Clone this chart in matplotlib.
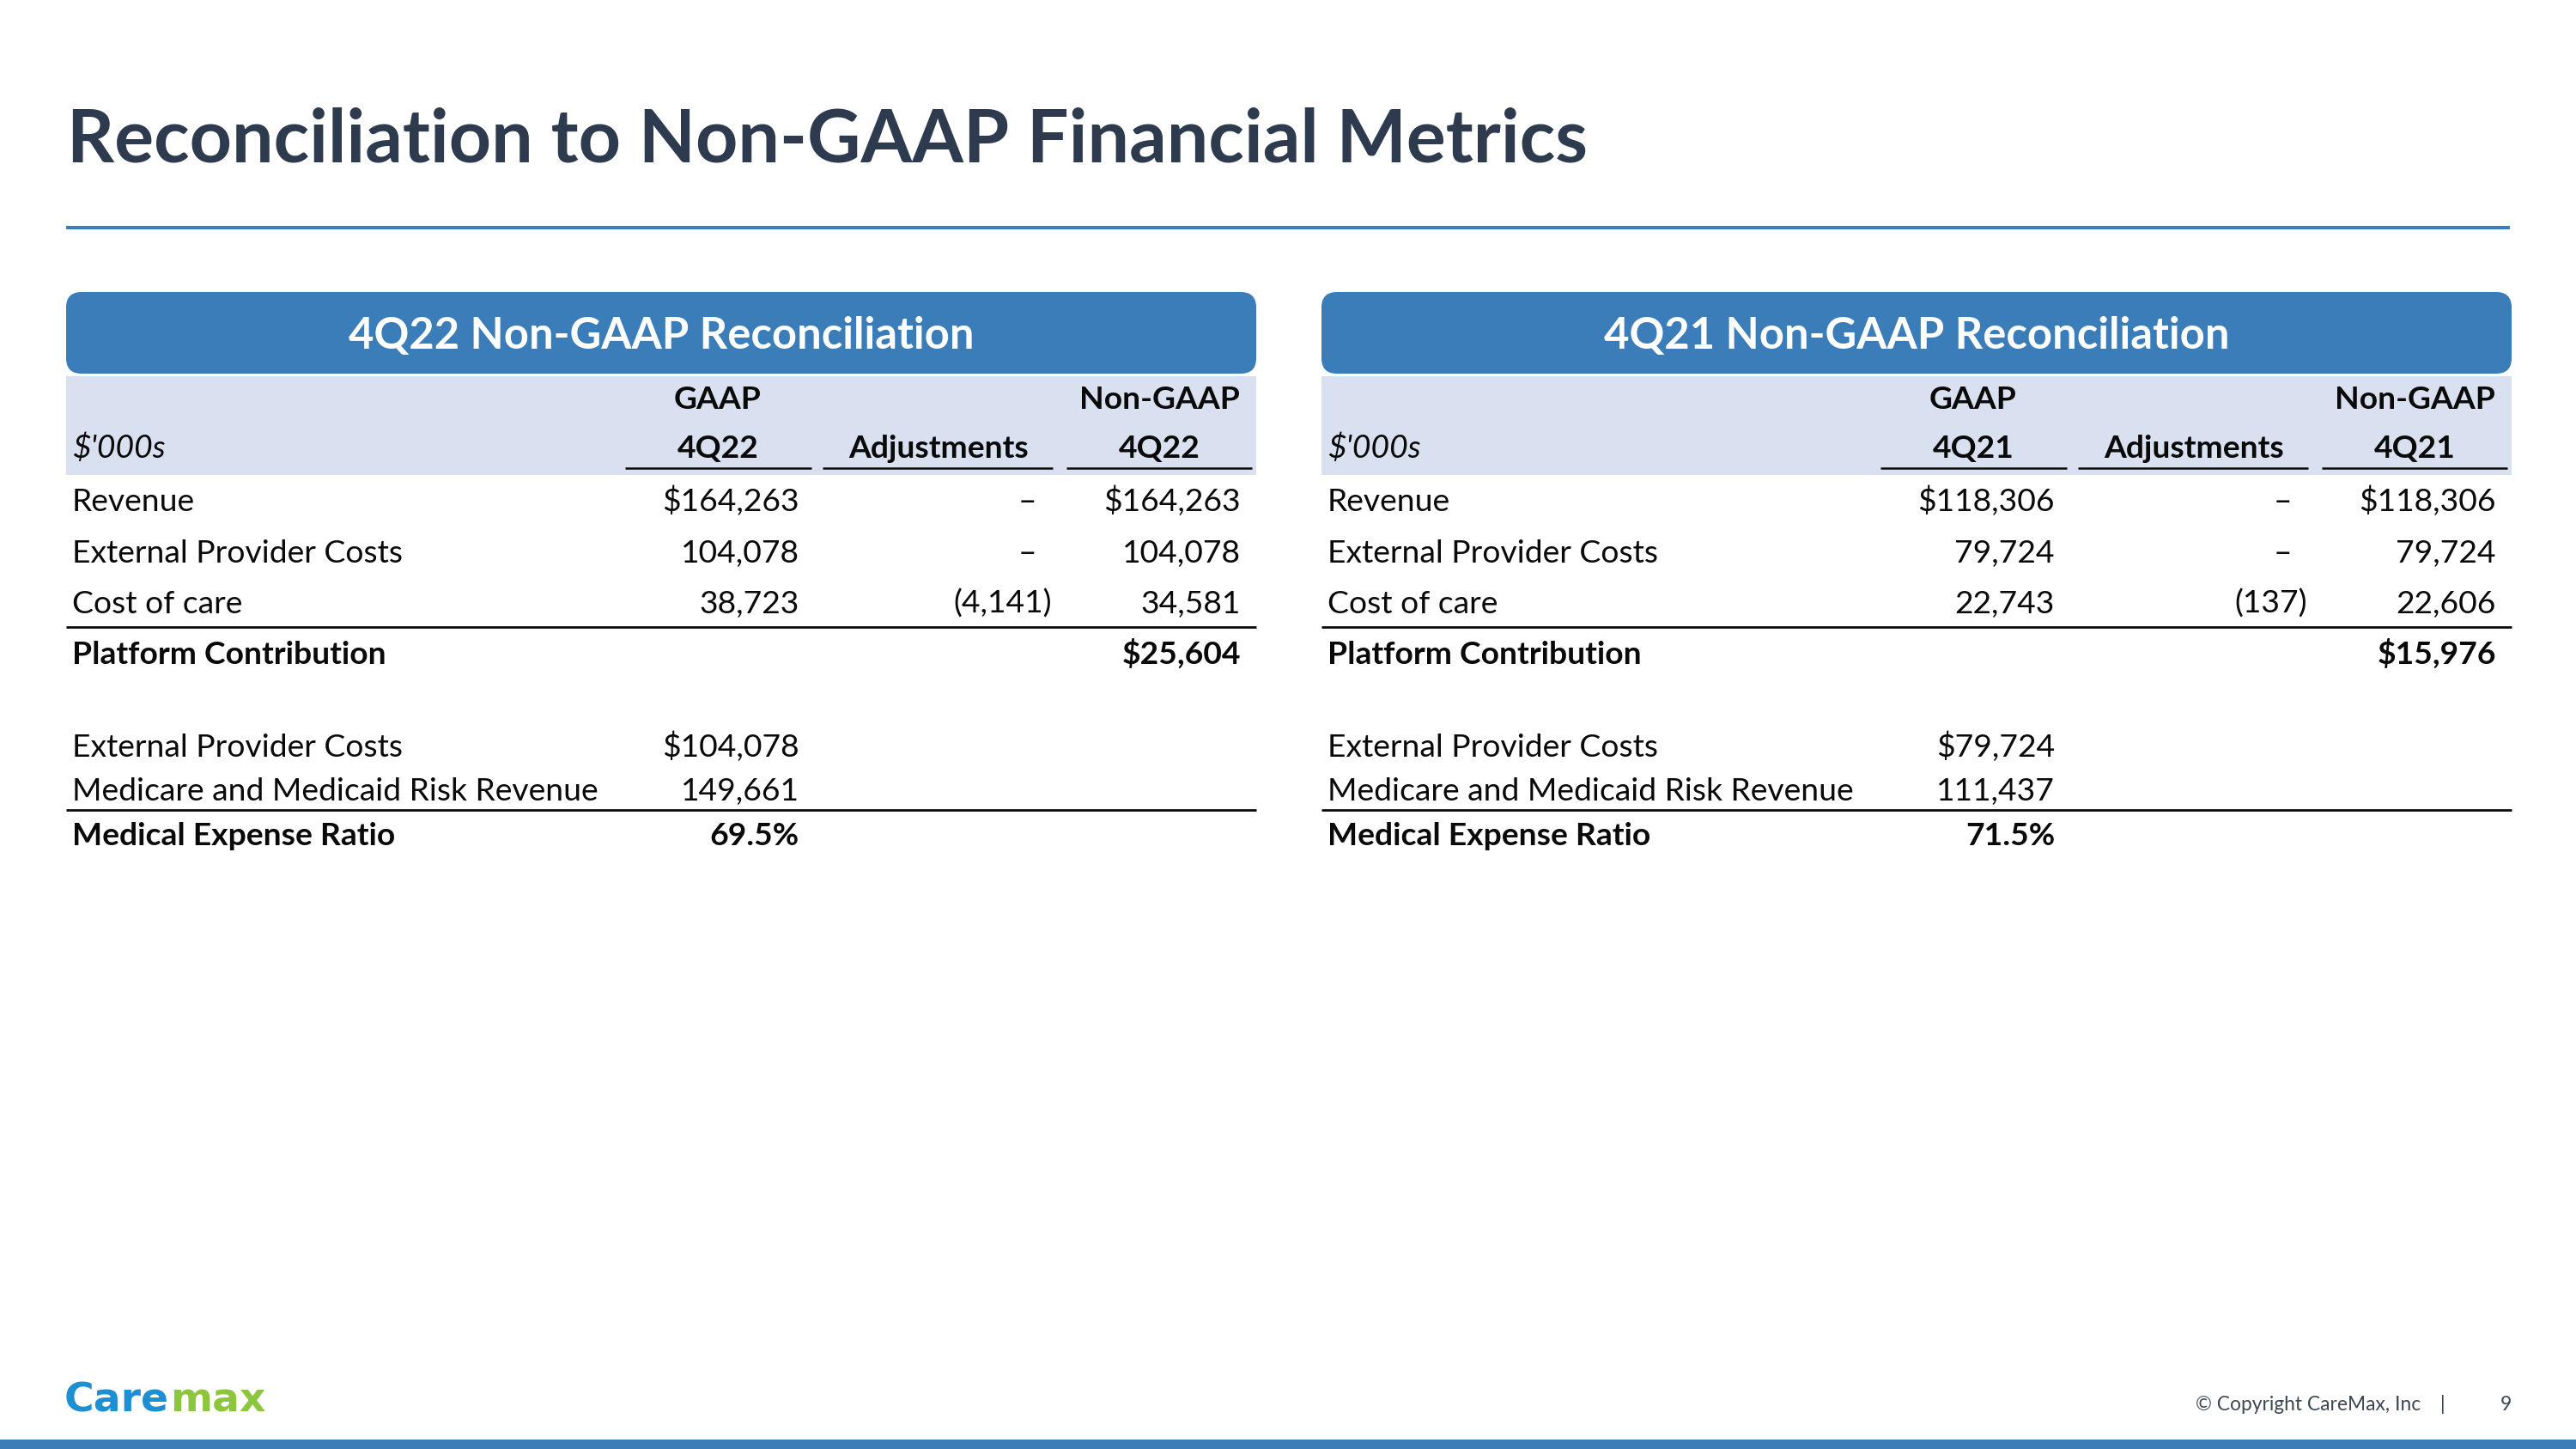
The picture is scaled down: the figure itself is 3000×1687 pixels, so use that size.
import matplotlib
matplotlib.use("Agg")
import matplotlib.pyplot as plt
from matplotlib.patches import FancyBboxPatch, Rectangle

# ---------------- data ----------------
title = "Reconciliation to Non-GAAP Financial Metrics"
periods = ["4Q22", "4Q21"]
top_rows = ["Revenue", "External Provider Costs", "Cost of care"]
gaap_4q22 = [164263, 104078, 38723]
adj_4q22 = [0, 0, -4141]
nongaap_4q22 = [164263, 104078, 34581]
platform_4q22 = 25604
gaap_4q21 = [118306, 79724, 22743]
adj_4q21 = [0, 0, -137]
nongaap_4q21 = [118306, 79724, 22606]
platform_4q21 = 15976
mer_rows = ["External Provider Costs", "Medicare and Medicaid Risk Revenue"]
mer_4q22 = [104078, 149661]
mer_4q21 = [79724, 111437]
ratio_4q22 = 69.5
ratio_4q21 = 71.5

# ---------------- style ----------------
FONT = "Lato"
TITLE_C = "#2E3B4E"
BLUE = "#3A7DB8"
BAND = "#D9E1F0"
TXT = "#0A0A0A"

fig = plt.figure(figsize=(30, 16.87), dpi=100)
ax = fig.add_axes([0, 0, 1, 1])
ax.set_xlim(0, 3000)
ax.set_ylim(1687, 0)
ax.axis("off")
renderer = fig.canvas.get_renderer()


def fit(txt, target, **kw):
    t = ax.text(0, 0, txt, fontsize=100, family=FONT, **kw)
    w = t.get_window_extent(renderer).width
    t.remove()
    return 100.0 * target / w


# title
ts = fit(title, 1770, weight="bold")
ax.text(78, 188, title, fontsize=ts, family=FONT, weight="bold", color=TITLE_C,
        ha="left", va="baseline")
ax.add_patch(Rectangle((77, 263), 2846, 4, color=BLUE, lw=0))

body = fit("Medicare and Medicaid Risk Revenue", 612)
hdr_size = fit("4Q22 Non-GAAP Reconciliation", 728, weight="bold")


def money(v, dollar=False):
    if v == 0:
        return "–"
    s = f"{abs(v):,}"
    if dollar:
        s = "$" + s
    if v < 0:
        s = "(" + s + ")"
    return s


def panel(x0, period, gaap, adj, nong, platform, mer, ratio):
    W = 1386
    # header box
    ax.add_patch(FancyBboxPatch((x0, 340), W, 95,
                                boxstyle="round,pad=0,rounding_size=18",
                                fc=BLUE, ec="none"))
    ax.text(x0 + W / 2, 406, f"{period} Non-GAAP Reconciliation", fontsize=hdr_size,
            family=FONT, weight="bold", color="white", ha="center", va="baseline")
    # light band
    ax.add_patch(Rectangle((x0, 438), W, 115, fc=BAND, ec="none"))
    lab_x = x0 + 7
    c_gaap = x0 + 759
    c_adj = x0 + 1016
    c_ng = x0 + 1273
    r_gaap = x0 + 854
    r_adj_dash = x0 + 1130
    r_adj_par = x0 + 1148
    r_ng = x0 + 1368
    kw_b = dict(fontsize=body, family=FONT, weight="bold", color=TXT, va="baseline")
    kw_r = dict(fontsize=body, family=FONT, color=TXT, va="baseline")
    ax.text(c_gaap, 476, "GAAP", ha="center", **kw_b)
    ax.text(c_ng, 476, "Non-GAAP", ha="center", **kw_b)
    ax.text(lab_x, 533, "$'000s", ha="left", style="italic", **kw_r)
    ax.text(c_gaap, 533, period, ha="center", **kw_b)
    ax.text(c_adj, 533, "Adjustments", ha="center", **kw_b)
    ax.text(c_ng, 533, period, ha="center", **kw_b)
    for a, b in [(x0 + 651, x0 + 868), (x0 + 881, x0 + 1149), (x0 + 1165, x0 + 1381)]:
        ax.plot([a, b], [545, 545], color=TXT, lw=1.8, solid_capstyle="butt")
    ys = [595, 655, 714]
    for i, (lab, g, a, n) in enumerate(zip(top_rows, gaap, adj, nong)):
        y = ys[i]
        ax.text(lab_x, y, lab, ha="left", **kw_r)
        ax.text(r_gaap, y, money(g, i == 0), ha="right", **kw_r)
        ax.text(r_adj_par if a < 0 else r_adj_dash, y, money(a), ha="right", **kw_r)
        ax.text(r_ng, y, money(n, i == 0), ha="right", **kw_r)
    ax.plot([x0, x0 + W], [730, 730], color=TXT, lw=2.0, solid_capstyle="butt")
    ax.text(lab_x, 773, "Platform Contribution", ha="left", **kw_b)
    ax.text(r_ng, 773, money(platform, True), ha="right", **kw_b)
    for i, (lab, v) in enumerate(zip(mer_rows, mer)):
        y = [881, 932][i]
        ax.text(lab_x, y, lab, ha="left", **kw_r)
        ax.text(r_gaap, y, money(v, i == 0), ha="right", **kw_r)
    ax.plot([x0, x0 + W], [943, 943], color=TXT, lw=2.0, solid_capstyle="butt")
    ax.text(lab_x, 984, "Medical Expense Ratio", ha="left", **kw_b)
    ax.text(r_gaap, 984, f"{ratio:.1f}%", ha="right", **kw_b)


panel(77, periods[0], gaap_4q22, adj_4q22, nongaap_4q22, platform_4q22, mer_4q22, ratio_4q22)
panel(1539, periods[1], gaap_4q21, adj_4q21, nongaap_4q21, platform_4q21, mer_4q21, ratio_4q21)

# logo
t1 = ax.text(75, 1643, "Care", fontsize=34, family="DejaVu Sans", weight="bold",
             color="#1E8FD2", ha="left", va="baseline")
bb = t1.get_window_extent(renderer)
inv = ax.transData.inverted()
x_end = inv.transform((bb.x1, bb.y0))[0]
ax.text(x_end + 1, 1643, "max", fontsize=34, family="DejaVu Sans", weight="bold",
        color="#8CC63F", ha="left", va="baseline")

# footer
fs = fit("© Copyright CareMax, Inc", 261)
ax.text(2557, 1642, "© Copyright CareMax, Inc", fontsize=fs, family=FONT,
        color="#3D4752", ha="left", va="baseline")
ax.text(2845, 1642, "|", fontsize=fs, family=FONT, color="#3D4752", ha="center", va="baseline")
ax.text(2925, 1642, "9", fontsize=fs, family=FONT, color="#3D4752", ha="right", va="baseline")
ax.add_patch(Rectangle((0, 1676), 3000, 11, color=BLUE, lw=0))

fig.savefig("out.png", dpi=100)
